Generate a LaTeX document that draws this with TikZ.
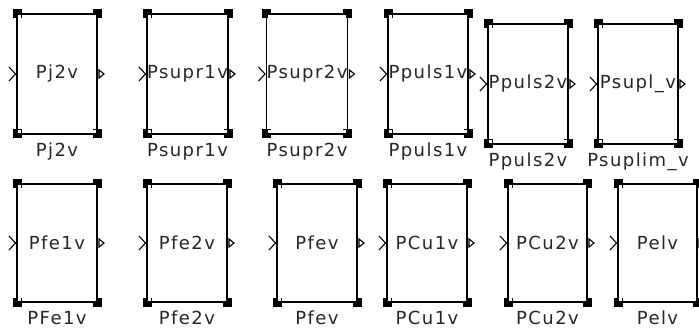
\documentclass[tikz,border=0pt]{standalone}
\usepackage{fontspec}
\newfontfamily\blockfont[LetterSpace=8]{DejaVu Sans}
\newcommand\blocksize{\fontsize{18}{20}\selectfont}
\begin{document}
\begin{tikzpicture}[x=1pt,y=-1pt,
  blk/.style={draw=black, line width=1.8pt, inner sep=0pt, outer sep=0pt,
    text=black!85, font=\blockfont\blocksize},
  lbl/.style={inner sep=0pt, outer sep=0pt, anchor=north, text=black!85,
    font=\blockfont\blocksize},
  handle/.style={fill=black},
  inport/.style={draw=black, line width=1.1pt, line join=miter},
  outport/.style={draw=black, line width=1.1pt, line join=miter}]
\useasboundingbox (0,0) rectangle (699,331);
\fill[white] (0,0) rectangle (699,331);

% one selected subsystem block: name, centre x, centre y, width, height, inner text, label
\newcommand\sblock[7]{%
  \node[blk, minimum width=#4pt, minimum height=#5pt] (#1) at (#2,#3) {#6};
  \node[lbl] (#1-lbl) at ([yshift=-9pt]#1.south) {#7};
  % selection handles
  \fill[handle] ([shift={(-4.5pt,-4.5pt)}]#1.north west) rectangle ++(9pt,9pt);
  \fill[handle] ([shift={(-4.5pt,-4.5pt)}]#1.north east) rectangle ++(9pt,9pt);
  \fill[handle] ([shift={(-4.5pt,-4.5pt)}]#1.south west) rectangle ++(9pt,9pt);
  \fill[handle] ([shift={(-4.5pt,-4.5pt)}]#1.south east) rectangle ++(9pt,9pt);
  \fill[white] ([shift={(1pt,-1pt)}]#1.north west) rectangle ++(3pt,-3pt);
  \fill[white] ([shift={(-1pt,-1pt)}]#1.north east) rectangle ++(-3pt,-3pt);
  \fill[white] ([shift={(1pt,1pt)}]#1.south west) rectangle ++(3pt,3pt);
  \fill[white] ([shift={(-1pt,1pt)}]#1.south east) rectangle ++(-3pt,3pt);
  % input and output ports
  \draw[inport] ([shift={(-8pt,7pt)}]#1.west) -- ([shift={(-1.5pt,0pt)}]#1.west)
    -- ([shift={(-8pt,-7pt)}]#1.west);
  \draw[outport] ([shift={(2pt,4pt)}]#1.east) -- ([shift={(7pt,0pt)}]#1.east)
    -- ([shift={(2pt,-4pt)}]#1.east) -- cycle;
}

% upper row
\sblock{b1}{57}{74}{80}{120}{Pj2v}{Pj2v}
\sblock{b2}{187.5}{74}{81}{120}{Psupr1v}{Psupr1v}
\sblock{b3}{307}{74}{80}{120}{Psupr2v}{Psupr2v}
\sblock{b4}{428}{74}{80}{120}{Ppuls1v}{Ppuls1v}
\sblock{b5}{528}{84}{80}{120}{Ppuls2v}{Ppuls2v}
\sblock{b6}{638}{84}{80}{120}{Psupl\_v}{Psuplim\_v}

% lower row
\sblock{b7}{57}{243}{80}{118}{Pfe1v}{PFe1v}
\sblock{b8}{187}{243}{80}{118}{Pfe2v}{Pfe2v}
\sblock{b9}{317}{243}{80}{118}{Pfev}{Pfev}
\sblock{b10}{427}{243}{80}{118}{PCu1v}{PCu1v}
\sblock{b11}{547.5}{243}{79}{118}{PCu2v}{PCu2v}
\sblock{b12}{657.5}{243}{79}{118}{Pelv}{Pelv}
\end{tikzpicture}
\end{document}
